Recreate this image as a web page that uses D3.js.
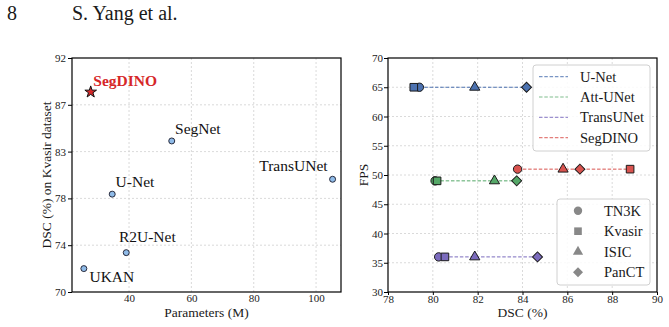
<!DOCTYPE html>
<html>
<head>
<meta charset="utf-8">
<script src="https://cdn.jsdelivr.net/npm/d3@7"></script>
<style>
  body { margin: 0; background: #fff; }
  svg text { font-family: "Liberation Serif", "Times New Roman", Times, serif; fill: #1a1a1a; }
  .grid line { stroke: #d0d0d0; stroke-width: 0.8; stroke-dasharray: 2,2; }
  .axis path, .axis line { stroke: #000; }
  .axis text { font-size: 11px; fill: #222; }
</style>
</head>
<body>
<svg id="chart" width="669" height="327"></svg>
<script>
"use strict";

// left panel: params vs DSC on Kvasir
var paramModels = ["SegDINO", "SegNet", "TransUNet", "U-Net", "R2U-Net", "UKAN"];
var paramValues = [27.7, 53.7, 105.3, 34.6, 39.1, 25.5];
var paramDsc = [88.8, 84.2, 80.6, 79.2, 73.7, 72.2];
var paramYTicks = [70, 74.4, 78.8, 83.2, 87.6, 92];
var paramXTicks = [40, 60, 80, 100];

// right panel: DSC vs FPS per dataset
var fpsModels = ["U-Net", "Att-UNet", "TransUNet", "SegDINO"];
var fpsValues = [65, 49, 36, 51];
var datasets = ["TN3K", "Kvasir", "ISIC", "PanCT"];
var dscTN3K = [79.4, 80.1, 80.26, 83.78];
var dscKvasir = [79.15, 80.19, 80.54, 88.8];
var dscISIC = [81.87, 82.75, 81.87, 85.81];
var dscPanCT = [84.18, 83.74, 84.67, 86.56];
var fpsXTicks = [78, 80, 82, 84, 86, 88, 90];
var fpsYTicks = [30, 35, 40, 45, 50, 55, 60, 65, 70];

var modelColors = ["#4c72b0", "#55a868", "#7b6bbd", "#d9534f"];
var dscByDataset = [dscTN3K, dscKvasir, dscISIC, dscPanCT];
// diamond = square turned 45 deg, like matplotlib 'D'
var shapes = [d3.symbolCircle, d3.symbolSquare, d3.symbolTriangle, d3.symbolSquare];
var shapeSizes = [55, 58, 45, 50];
var shapeRot = [0, 0, 0, 45];

var svg = d3.select('#chart');

//--- page header
svg.append('text').attr('x', 7).attr('y', 20).style('font-size', '20px').text('8');
svg.append('text').attr('x', 72).attr('y', 20).style('font-size', '20px').text('S. Yang et al.');

//*-*-*-*-*-*-*-*-*-*-*-*-*-*-*-*-*-*-*-*
// left panel
//*-*-*-*-*-*-*-*-*-*-*-*-*-*-*-*-*-*-*-*
var lx = d3.scaleLinear().domain([21.7, 108]).range([72, 341]);
var ly = d3.scaleLinear().domain([70, 92]).range([292, 58]);
var left = svg.append('g');

left.append('g').attr('class', 'grid')
	.selectAll('line').data(paramXTicks).enter().append('line')
	.attr('x1', function(d){ return lx(d); }).attr('x2', function(d){ return lx(d); })
	.attr('y1', ly(70)).attr('y2', ly(92));
left.append('g').attr('class', 'grid')
	.selectAll('line').data(paramYTicks.slice(1, -1)).enter().append('line')
	.attr('x1', lx.range()[0]).attr('x2', lx.range()[1])
	.attr('y1', function(d){ return ly(d); }).attr('y2', function(d){ return ly(d); });

left.append('g').attr('class', 'axis')
	.attr('transform', 'translate(0,' + ly(70) + ')')
	.call(d3.axisBottom(lx).tickValues(paramXTicks).tickSize(0).tickPadding(2).tickFormat(d3.format('d')))
	.call(function(g){ g.select('.domain').remove(); });
left.append('g').attr('class', 'axis')
	.attr('transform', 'translate(' + lx.range()[0] + ',0)')
	.call(d3.axisLeft(ly).tickValues(paramYTicks).tickSize(4).tickPadding(2)
		.tickFormat(function(d){ return Math.floor(d + 1e-9); }))
	.call(function(g){ g.select('.domain').remove(); });

left.append('rect')
	.attr('x', lx.range()[0]).attr('y', ly(92))
	.attr('width', lx.range()[1] - lx.range()[0]).attr('height', ly(70) - ly(92))
	.attr('fill', 'none').attr('stroke', '#000').attr('stroke-width', 1.2);

left.append('text')
	.attr('transform', 'translate(51,' + (ly(81)) + ') rotate(-90)')
	.attr('text-anchor', 'middle').style('font-size', '13.5px')
	.text('DSC (%) on Kvasir dataset');
left.append('text')
	.attr('x', (lx.range()[0] + lx.range()[1]) / 2).attr('y', 317)
	.attr('text-anchor', 'middle').style('font-size', '13.5px')
	.text('Parameters (M)');

// label offsets per model
var labelDx = [2.6, 3.3, -5, 3.4, -7.3, 5.6];
var labelDy = [-6, -6.7, -8, -6.7, -10.6, 13.4];
var labelAnchor = ['start', 'start', 'end', 'start', 'start', 'start'];

paramModels.forEach(function(m, i){
	var px = lx(paramValues[i]), py = ly(paramDsc[i]);
	if (m == 'SegDINO') {
		left.append('path')
			.attr('d', d3.symbol().type(d3.symbolStar).size(42)())
			.attr('transform', 'translate(' + px + ',' + py + ')')
			.attr('fill', '#d62728').attr('stroke', '#111').attr('stroke-width', 1);
	} else {
		left.append('circle').attr('cx', px).attr('cy', py).attr('r', 3)
			.attr('fill', '#8fbbe8').attr('stroke', '#1a1a2a').attr('stroke-width', 0.9);
	}
	left.append('text')
		.attr('x', px + labelDx[i]).attr('y', py + labelDy[i])
		.attr('text-anchor', labelAnchor[i])
		.style('font-size', '15.5px')
		.style('font-weight', m == 'SegDINO' ? 'bold' : 'normal')
		.style('fill', m == 'SegDINO' ? '#d62728' : '#111')
		.text(m);
});

//*-*-*-*-*-*-*-*-*-*-*-*-*-*-*-*-*-*-*-*
// right panel
//*-*-*-*-*-*-*-*-*-*-*-*-*-*-*-*-*-*-*-*
var rx = d3.scaleLinear().domain([78, 90]).range([388, 657]);
var ry = d3.scaleLinear().domain([30, 70]).range([292, 58]);
var right = svg.append('g');

right.append('g').attr('class', 'grid')
	.selectAll('line').data(fpsXTicks.slice(1, -1)).enter().append('line')
	.attr('x1', function(d){ return rx(d); }).attr('x2', function(d){ return rx(d); })
	.attr('y1', ry(30)).attr('y2', ry(70));
right.append('g').attr('class', 'grid')
	.selectAll('line').data(fpsYTicks.slice(1, -1)).enter().append('line')
	.attr('x1', rx.range()[0]).attr('x2', rx.range()[1])
	.attr('y1', function(d){ return ry(d); }).attr('y2', function(d){ return ry(d); });

right.append('g').attr('class', 'axis')
	.attr('transform', 'translate(0,' + ry(30) + ')')
	.call(d3.axisBottom(rx).tickValues(fpsXTicks).tickSize(3).tickPadding(0))
	.call(function(g){ g.select('.domain').remove(); });
right.append('g').attr('class', 'axis')
	.attr('transform', 'translate(' + rx.range()[0] + ',0)')
	.call(d3.axisLeft(ry).tickValues(fpsYTicks).tickSize(4).tickPadding(1))
	.call(function(g){ g.select('.domain').remove(); });

right.append('rect')
	.attr('x', rx.range()[0]).attr('y', ry(70))
	.attr('width', rx.range()[1] - rx.range()[0]).attr('height', ry(30) - ry(70))
	.attr('fill', 'none').attr('stroke', '#000').attr('stroke-width', 1.2);

right.append('text')
	.attr('transform', 'translate(368,' + ry(50) + ') rotate(-90)')
	.attr('text-anchor', 'middle').style('font-size', '13.5px')
	.text('FPS');
right.append('text')
	.attr('x', (rx.range()[0] + rx.range()[1]) / 2).attr('y', 317)
	.attr('text-anchor', 'middle').style('font-size', '13.5px')
	.text('DSC (%)');

// dashed range lines
fpsModels.forEach(function(m, i){
	var vals = dscByDataset.map(function(arr){ return arr[i]; });
	right.append('line')
		.attr('x1', rx(d3.min(vals))).attr('x2', rx(d3.max(vals)))
		.attr('y1', ry(fpsValues[i])).attr('y2', ry(fpsValues[i]))
		.attr('stroke', modelColors[i]).attr('stroke-width', 1)
		.attr('stroke-dasharray', '3.5,1.8');
});
// markers
dscByDataset.forEach(function(arr, k){
	fpsModels.forEach(function(m, i){
		right.append('path')
			.attr('d', d3.symbol().type(shapes[k]).size(shapeSizes[k])())
			.attr('transform', 'translate(' + rx(arr[i]) + ',' + ry(fpsValues[i]) + ') rotate(' + shapeRot[k] + ')')
			.attr('fill', modelColors[i]).attr('stroke', '#1a1a1a').attr('stroke-width', 1);
	});
});

// legend: models
var leg1 = right.append('g').attr('transform', 'translate(533,65)');
leg1.append('rect').attr('width', 117).attr('height', 86).attr('rx', 3)
	.attr('fill', 'rgba(255,255,255,0.85)').attr('stroke', '#d0d0d0');
fpsModels.forEach(function(m, i){
	var y = 11.7 + i * 20.3;
	leg1.append('line').attr('x1', 6).attr('x2', 35).attr('y1', y).attr('y2', y)
		.attr('stroke', modelColors[i]).attr('stroke-opacity', 0.75)
		.attr('stroke-width', 1.2).attr('stroke-dasharray', '3.5,1.8');
	leg1.append('text').attr('x', 47).attr('y', y + 5)
		.style('font-size', '14.5px').text(m);
});

// legend: datasets
var leg2 = right.append('g').attr('transform', 'translate(557,199)');
leg2.append('rect').attr('width', 93).attr('height', 86).attr('rx', 3)
	.attr('fill', 'rgba(255,255,255,0.85)').attr('stroke', '#d0d0d0');
datasets.forEach(function(d, k){
	var y = 11.7 + k * 20.5;
	leg2.append('path')
		.attr('d', d3.symbol().type(shapes[k]).size(shapeSizes[k])())
		.attr('transform', 'translate(21,' + y + ') rotate(' + shapeRot[k] + ')')
		.attr('fill', '#888');
	leg2.append('text').attr('x', 47).attr('y', y + 5)
		.style('font-size', '14.5px').text(d);
});
</script>
</body>
</html>
